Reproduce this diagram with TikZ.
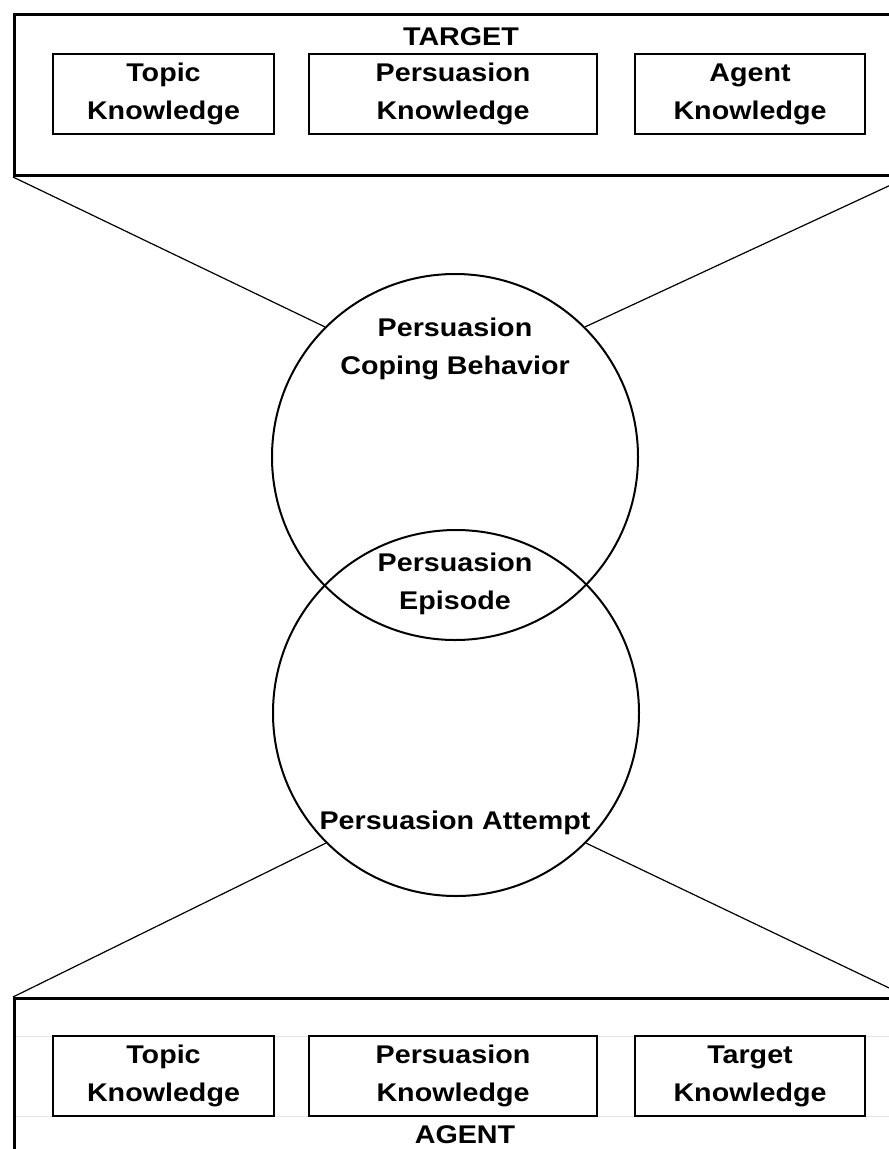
\documentclass[tikz,border=0pt]{standalone}
\usepackage{fontspec}
\setmainfont{Liberation Sans}[FakeStretch=1.12]

\begin{document}
\begin{tikzpicture}[
            x=1pt, y=-1pt,
            every node/.style={font=\bfseries\fontsize{25.6}{38}\selectfont, align=center, inner sep=0pt},
            outerbox/.style={draw, line width=3pt, anchor=north west, minimum width=892pt, minimum height=161pt},
            kbox/.style={draw, line width=2.5pt, minimum width=#1, minimum height=80pt},
            ring/.style={circle, draw, line width=2pt, minimum size=366pt}
        ]
            \useasboundingbox (0,0) rectangle (889,1149);
            \clip (0,0) rectangle (889,1149);

            % target side
            \node[outerbox] (target) at (13,13) {};
            \node (targettitle) at (461,37) {TARGET};
            \node[kbox=221pt] (ttopic) at (163.5,94) {Topic\\Knowledge};
            \node[kbox=288pt] (tpersuasion) at (453,94) {Persuasion\\Knowledge};
            \node[kbox=230pt] (tagent) at (750,94) {Agent\\Knowledge};

            % agent side
            \draw[gray!20, line width=1pt] (13,1036) -- (889,1036) (13,1116) -- (889,1116);
            \node[outerbox, minimum height=170pt] (agent) at (13,997) {};
            \node[kbox=221pt] (atopic) at (163.5,1076) {Topic\\Knowledge};
            \node[kbox=288pt] (apersuasion) at (453,1076) {Persuasion\\Knowledge};
            \node[kbox=230pt] (atarget) at (750,1076) {Target\\Knowledge};
            \node (agenttitle) at (465,1135) {AGENT};

            % the two circles
            \node[ring] (coping) at (455,457) {};
            \node[ring] (attempt) at (456,713) {};
            \node (copingtext) at (455,349) {Persuasion\\Coping Behavior};
            \node (episodetext) at (455,584) {Persuasion\\Episode};
            \node (attempttext) at (455,823) {Persuasion Attempt};

            \draw[line width=1.2pt] (target.south west) -- (coping.135);
            \draw[line width=1.2pt] (target.south east) -- (coping.45);
            \draw[line width=1.2pt] (agent.north west) -- (attempt.225);
            \draw[line width=1.2pt] (agent.north east) -- (attempt.315);

        \end{tikzpicture}
\end{document}
